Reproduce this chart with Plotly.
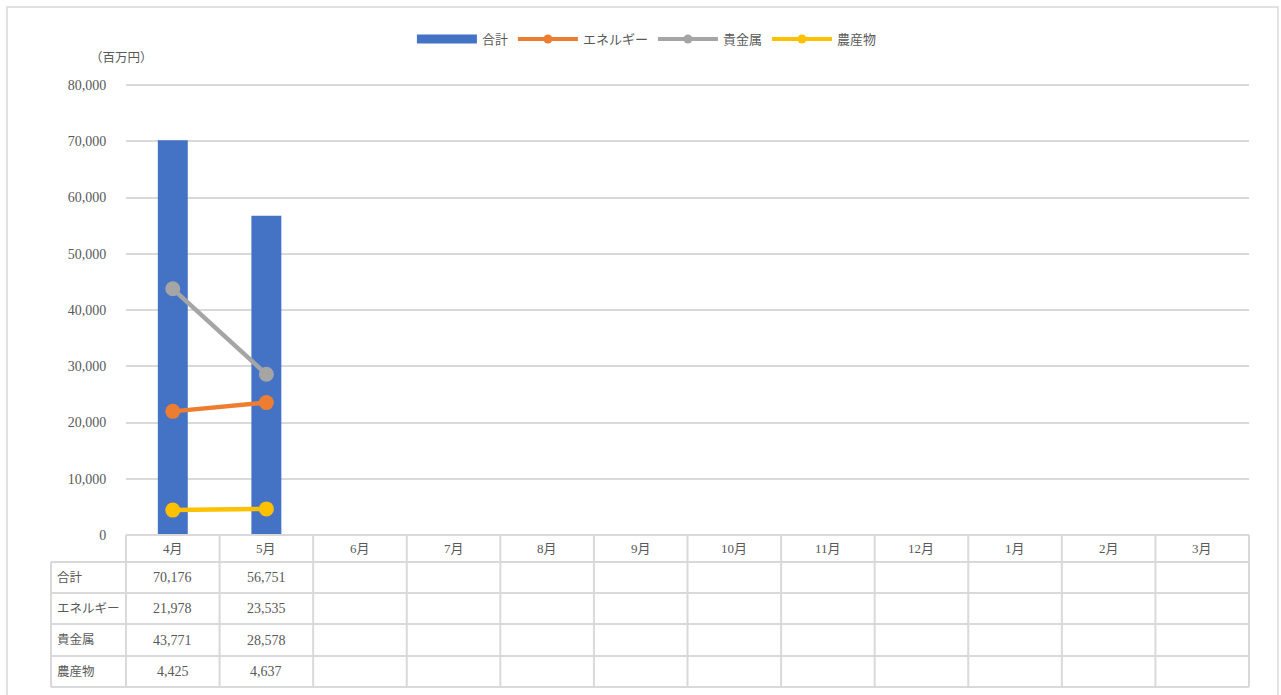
import plotly.graph_objects as go

months = ["4月", "5月", "6月", "7月", "8月", "9月", "10月", "11月", "12月", "1月", "2月", "3月"]
total = [70176, 56751]
energy = [21978, 23535]
precious = [43771, 28578]
agri = [4425, 4637]
series_names = ["合計", "エネルギー", "貴金属", "農産物"]
series_colors = ["#4472C4", "#ED7D31", "#A5A5A5", "#FFC000"]
y_ticks = [0, 10000, 20000, 30000, 40000, 50000, 60000, 70000, 80000]
unit_label = "（百万円）"

W, H = 1281, 695
FONT = "Liberation Serif, Noto Sans CJK JP, serif"
TXT = "#595959"
GRID = "#d9d9d9"

# plot area in pixels (0 at PY_BOT, 80,000 at PY_TOP)
PX0, PX1 = 126, 1249
PY_TOP, PY_BOT = 85, 535
Y_MAX = 80000
Y_PAD = 300  # small headroom so the top gridline is drawn
LABEL_X0 = 51
row_bounds_px = [535, 562, 593, 624, 656, 687]

def px(x):
    return x / W

def py(y):
    return 1 - y / H

n = len(months)
dom_x = [px(PX0), px(PX1)]
top_px = PY_BOT - (PY_BOT - PY_TOP) * (Y_MAX + Y_PAD) / Y_MAX

def cat_paper(i):
    # category index -> paper x (axis range -0.5..n-0.5)
    return dom_x[0] + (i + 0.5) / n * (dom_x[1] - dom_x[0])

fig = go.Figure()
fig.add_trace(go.Bar(x=months[:len(total)], y=total, name=series_names[0], showlegend=False,
                     marker=dict(color=series_colors[0], line=dict(width=0)), width=0.32))
line_vals = [energy, precious, agri]
for vals, nm, col in zip(line_vals, series_names[1:], series_colors[1:]):
    fig.add_trace(go.Scatter(x=months[:len(vals)], y=vals, name=nm, mode="lines+markers",
                             showlegend=False,
                             line=dict(color=col, width=4.5),
                             marker=dict(color=col, size=15)))

# legend proxies (no data points)
fig.add_trace(go.Scatter(x=[None], y=[None], name=series_names[0], mode="lines",
                         line=dict(color=series_colors[0], width=9)))
for nm, col in zip(series_names[1:], series_colors[1:]):
    fig.add_trace(go.Scatter(x=[None], y=[None], name=nm, mode="lines+markers",
                             line=dict(color=col, width=4), marker=dict(color=col, size=9)))

shapes = []
ln = dict(color=GRID, width=2)
# outer frame
shapes.append(dict(type="rect", xref="paper", yref="paper", x0=px(7), x1=px(1278),
                   y0=py(702), y1=py(7), line=dict(color=GRID, width=1.5)))
# table horizontal lines
shapes.append(dict(type="line", xref="paper", yref="paper", x0=cat_paper(-0.5), x1=cat_paper(n - 0.5),
                   y0=py(row_bounds_px[0]), y1=py(row_bounds_px[0]), line=ln))
for yb in row_bounds_px[1:]:
    shapes.append(dict(type="line", xref="paper", yref="paper", x0=px(LABEL_X0), x1=cat_paper(n - 0.5),
                       y0=py(yb), y1=py(yb), line=ln))
# vertical lines
for i in range(n + 1):
    xb = cat_paper(i - 0.5)
    shapes.append(dict(type="line", xref="paper", yref="paper", x0=xb, x1=xb,
                       y0=py(row_bounds_px[0]), y1=py(row_bounds_px[-1]), line=ln))
shapes.append(dict(type="line", xref="paper", yref="paper", x0=px(LABEL_X0), x1=px(LABEL_X0),
                   y0=py(row_bounds_px[1]), y1=py(row_bounds_px[-1]), line=ln))

ann = []
cjk = dict(family=FONT, size=12.5, color=TXT)
num = dict(family=FONT, size=14, color=TXT)
# header months
hy = (row_bounds_px[0] + row_bounds_px[1]) / 2
for i, m in enumerate(months):
    ann.append(dict(x=cat_paper(i), y=py(hy), xref="paper", yref="paper", text=m,
                    showarrow=False, font=dict(family=FONT, size=13, color=TXT),
                    xanchor="center", yanchor="middle"))
rows = [total, energy, precious, agri]
for r, (nm, vals) in enumerate(zip(series_names, rows)):
    cy = (row_bounds_px[r + 1] + row_bounds_px[r + 2]) / 2
    ann.append(dict(x=px(55), y=py(cy), xref="paper", yref="paper", text=nm,
                    showarrow=False, font=cjk, xanchor="left", yanchor="middle"))
    for i, v in enumerate(vals):
        ann.append(dict(x=cat_paper(i), y=py(cy), xref="paper", yref="paper", text=f"{v:,}",
                        showarrow=False, font=num, xanchor="center", yanchor="middle"))
ann.append(dict(x=px(88), y=py(58), xref="paper", yref="paper", text=unit_label,
                showarrow=False, font=dict(family=FONT, size=12.5, color=TXT),
                xanchor="left", yanchor="middle"))

fig.update_layout(
    width=W, height=H,
    margin=dict(l=0, r=0, t=0, b=0, autoexpand=False),
    paper_bgcolor="white", plot_bgcolor="white",
    font=dict(family=FONT, size=13, color=TXT),
    barmode="overlay",
    showlegend=True,
    legend=dict(orientation="h", x=0.505, xanchor="center", y=py(39), yanchor="middle",
                font=dict(family=FONT, size=13, color=TXT), itemwidth=60, traceorder="normal"),
    xaxis=dict(domain=dom_x, type="category", categoryorder="array", categoryarray=months,
               range=[-0.5, n - 0.5], showticklabels=False, showgrid=False, zeroline=False,
               showline=False, ticks="", automargin=False),
    yaxis=dict(domain=[py(PY_BOT), py(top_px)], range=[0, Y_MAX + Y_PAD], tickvals=y_ticks,
               tickformat=",", showgrid=True, gridcolor=GRID, gridwidth=1.5, zeroline=False,
               showline=False, ticks="outside", ticklen=16, tickcolor="rgba(0,0,0,0)",
               automargin=False, tickfont=num),
    shapes=shapes, annotations=ann,
)
fig.write_html("out.html")
